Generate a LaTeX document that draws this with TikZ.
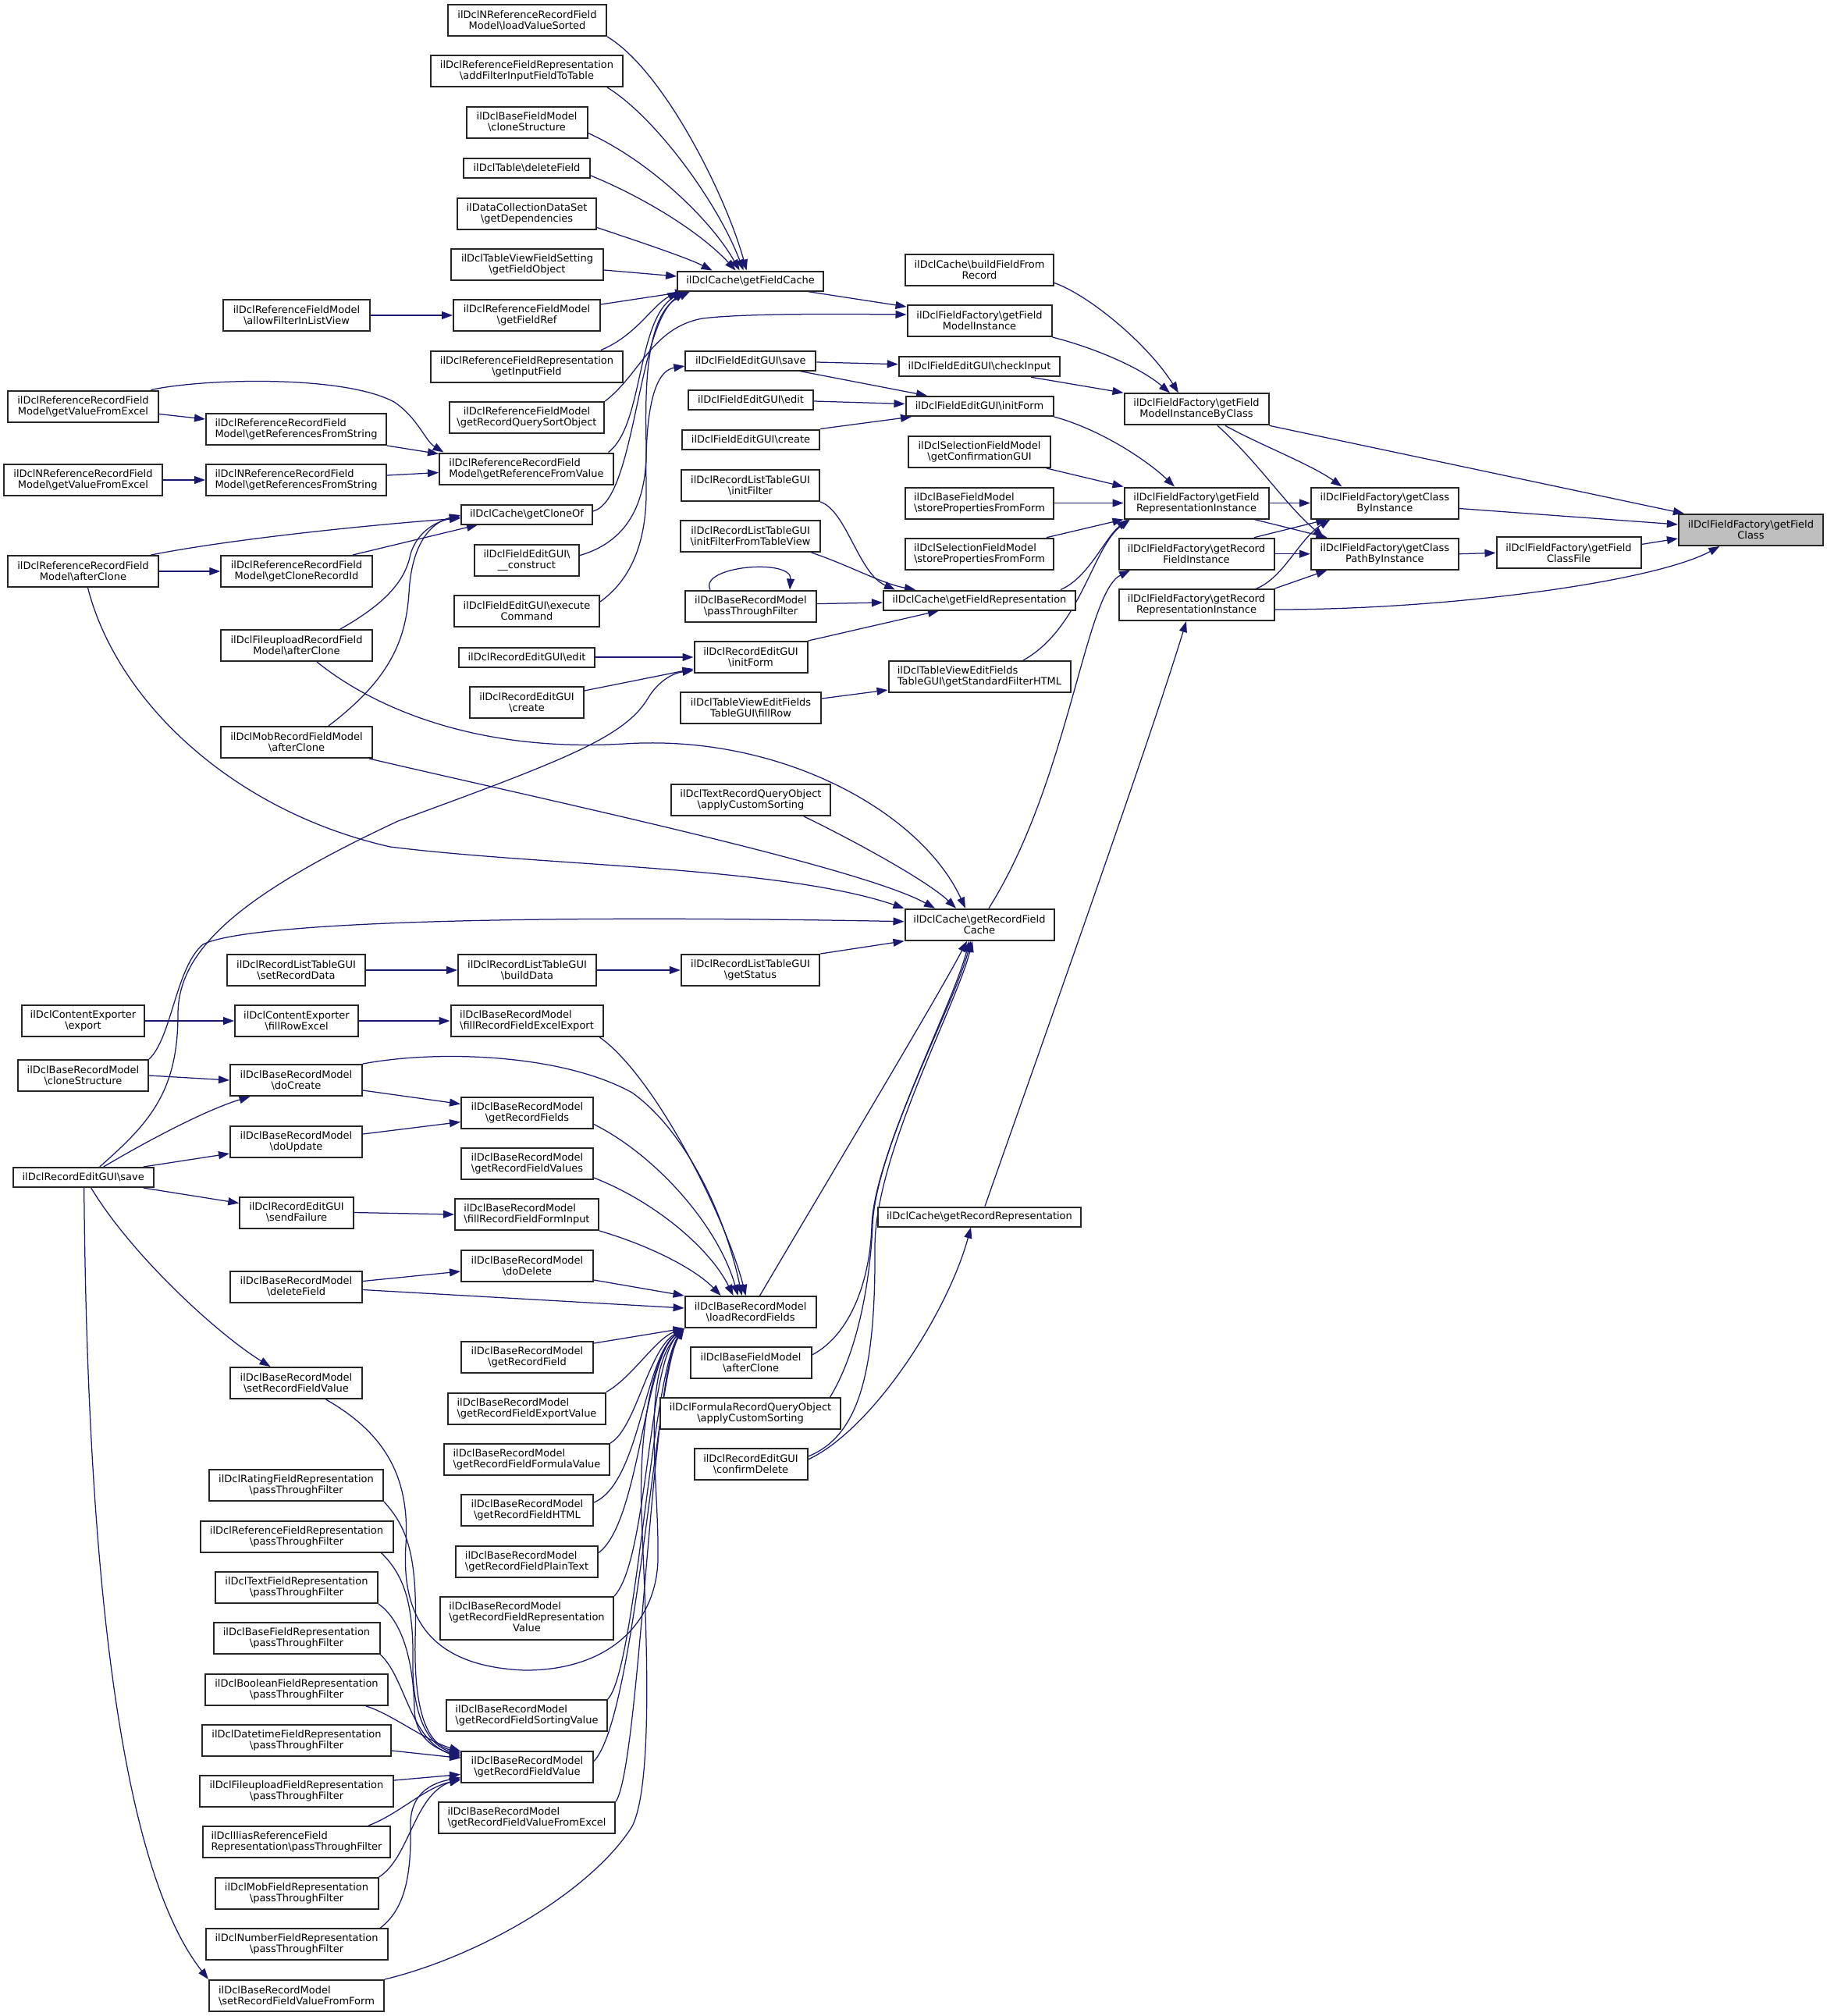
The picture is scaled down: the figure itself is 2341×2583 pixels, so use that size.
\documentclass[tikz,border=0pt]{standalone}
\usepackage{fontspec}
\setmainfont{DejaVu Sans}
\usetikzlibrary{arrows.meta}
\definecolor{edgec}{HTML}{191970}
\definecolor{rootfill}{HTML}{BFBFBF}
\newcommand{\bsl}{\textbackslash}
\pgfdeclarelayer{bg}
\pgfsetlayers{bg,main}
\begin{document}
\begin{tikzpicture}[x=1pt,y=-1pt,
  bx/.style={draw=black!85, line width=2pt, fill=white, font=\fontsize{13}{14}\selectfont, align=center, inner xsep=4pt, inner ysep=5pt, minimum height=40pt},
  lft/.style={align=left},
  one/.style={minimum height=25pt},
  cl/.style={draw=edgec, line width=1.25pt, -{Triangle[length=14pt,width=10pt]}},
]
\useasboundingbox (0,0) rectangle (2341,2583);
% ---------------- column A
\node[bx, minimum width=193pt] (rvExcel) at (106.5,520.5) {ilDclReferenceRecordField\\Model\bsl getValueFromExcel};
\node[bx, minimum width=203pt] (nrvExcel) at (106.5,615) {ilDclNReferenceRecordField\\Model\bsl getValueFromExcel};
\node[bx, minimum width=193pt] (rAfterClone) at (106.5,732) {ilDclReferenceRecordField\\Model\bsl afterClone};
\node[bx, minimum width=157pt] (ceExport) at (106.5,1308) {ilDclContentExporter\\\bsl export};
\node[bx, minimum width=167pt] (brmClone) at (106.5,1378) {ilDclBaseRecordModel\\\bsl cloneStructure};
\node[bx, one, minimum width=180pt] (reSave) at (106.7,1508.5) {ilDclRecordEditGUI\bsl save};
% ---------------- column B
\node[bx, minimum width=188pt] (allowFilter) at (380,404) {ilDclReferenceFieldModel\\\bsl allowFilterInListView};
\node[bx, lft, minimum width=231pt] (rRefStr) at (379.5,550) {ilDclReferenceRecordField\\Model\bsl getReferencesFromString};
\node[bx, lft, minimum width=231pt] (nrRefStr) at (379.5,615) {ilDclNReferenceRecordField\\Model\bsl getReferencesFromString};
\node[bx, minimum width=193.5pt] (cloneRecId) at (380,732) {ilDclReferenceRecordField\\Model\bsl getCloneRecordId};
\node[bx, minimum width=194pt] (fuAfterClone) at (380,827) {ilDclFileuploadRecordField\\Model\bsl afterClone};
\node[bx, minimum width=194pt] (mobAfterClone) at (380,951) {ilDclMobRecordFieldModel\\\bsl afterClone};
\node[bx, minimum width=177.5pt] (setRecData) at (379.5,1243) {ilDclRecordListTableGUI\\\bsl setRecordData};
\node[bx, minimum width=158pt] (fillRowExcel) at (380,1308) {ilDclContentExporter\\\bsl fillRowExcel};
\node[bx, minimum width=169pt] (doCreate) at (379.5,1384) {ilDclBaseRecordModel\\\bsl doCreate};
\node[bx, minimum width=169pt] (doUpdate) at (379.5,1463) {ilDclBaseRecordModel\\\bsl doUpdate};
\node[bx, minimum width=145.5pt] (sendFailure) at (380,1553.5) {ilDclRecordEditGUI\\\bsl sendFailure};
\node[bx, minimum width=169pt] (brmDeleteField) at (379.5,1648.5) {ilDclBaseRecordModel\\\bsl deleteField};
\node[bx, minimum width=169pt] (setRFV) at (379.5,1772) {ilDclBaseRecordModel\\\bsl setRecordFieldValue};
\node[bx, minimum width=223pt] (ratingPTF) at (379.5,1903) {ilDclRatingFieldRepresentation\\\bsl passThroughFilter};
\node[bx, minimum width=247pt] (refPTF) at (380,1968.6) {ilDclReferenceFieldRepresentation\\\bsl passThroughFilter};
\node[bx, minimum width=208pt] (textPTF) at (380,2034) {ilDclTextFieldRepresentation\\\bsl passThroughFilter};
\node[bx, minimum width=213pt] (basePTF) at (380,2099) {ilDclBaseFieldRepresentation\\\bsl passThroughFilter};
\node[bx, minimum width=234pt] (boolPTF) at (380,2165) {ilDclBooleanFieldRepresentation\\\bsl passThroughFilter};
\node[bx, minimum width=242pt] (datePTF) at (380,2230) {ilDclDatetimeFieldRepresentation\\\bsl passThroughFilter};
\node[bx, minimum width=248pt] (fuPTF) at (380,2295) {ilDclFileuploadFieldRepresentation\\\bsl passThroughFilter};
\node[bx, lft, minimum width=240.5pt] (iliasPTF) at (380,2360) {ilDclIliasReferenceField\\Representation\bsl passThroughFilter};
\node[bx, minimum width=209pt] (mobPTF) at (380,2426) {ilDclMobFieldRepresentation\\\bsl passThroughFilter};
\node[bx, minimum width=233pt] (numPTF) at (380,2491) {ilDclNumberFieldRepresentation\\\bsl passThroughFilter};
\node[bx, lft, minimum width=224pt] (setRFVForm) at (380,2557) {ilDclBaseRecordModel\\\bsl setRecordFieldValueFromForm};
% ---------------- column C
\node[bx, minimum width=203pt] (nrLoadSorted) at (675.5,26) {ilDclNReferenceRecordField\\Model\bsl loadValueSorted};
\node[bx, minimum width=246pt] (addFilter) at (675,91) {ilDclReferenceFieldRepresentation\\\bsl addFilterInputFieldToTable};
\node[bx, minimum width=155pt] (bfmClone) at (675,156.5) {ilDclBaseFieldModel\\\bsl cloneStructure};
\node[bx, one, minimum width=162pt] (tblDelete) at (675,215) {ilDclTable\bsl deleteField};
\node[bx, minimum width=178pt] (dsDeps) at (675,273.5) {ilDataCollectionDataSet\\\bsl getDependencies};
\node[bx, minimum width=195pt] (tvfsGetFO) at (675.5,339) {ilDclTableViewFieldSetting\\\bsl getFieldObject};
\node[bx, minimum width=188pt] (getFieldRef) at (675,404) {ilDclReferenceFieldModel\\\bsl getFieldRef};
\node[bx, minimum width=246pt] (getInputField) at (675,469.5) {ilDclReferenceFieldRepresentation\\\bsl getInputField};
\node[bx, minimum width=198.5pt] (getRQSO) at (675,535) {ilDclReferenceFieldModel\\\bsl getRecordQuerySortObject};
\node[bx, lft, minimum width=223pt] (getRefFromVal) at (674.5,600.5) {ilDclReferenceRecordField\\Model\bsl getReferenceFromValue};
\node[bx, one, minimum width=168pt] (getCloneOf) at (675,659) {ilDclCache\bsl getCloneOf};
\node[bx, minimum width=134pt] (feConstruct) at (675,717.6) {ilDclFieldEditGUI\bsl\\\_\_construct};
\node[bx, minimum width=186pt] (feExec) at (675,783) {ilDclFieldEditGUI\bsl execute\\Command};
\node[bx, one, minimum width=174pt] (reEdit) at (675,842) {ilDclRecordEditGUI\bsl edit};
\node[bx, minimum width=145.5pt] (reCreate) at (675,900) {ilDclRecordEditGUI\\\bsl create};
\node[bx, minimum width=177pt] (buildData) at (675.5,1243) {ilDclRecordListTableGUI\\\bsl buildData};
\node[bx, lft, minimum width=195pt] (fillRFExcel) at (675,1308) {ilDclBaseRecordModel\\\bsl fillRecordFieldExcelExport};
\node[bx, minimum width=169pt] (getRecordFields) at (675.5,1425.5) {ilDclBaseRecordModel\\\bsl getRecordFields};
\node[bx, minimum width=169pt] (getRFValues) at (675.5,1491) {ilDclBaseRecordModel\\\bsl getRecordFieldValues};
\node[bx, lft, minimum width=184pt] (fillRFForm) at (675,1556) {ilDclBaseRecordModel\\\bsl fillRecordFieldFormInput};
\node[bx, minimum width=169pt] (doDelete) at (675.5,1622) {ilDclBaseRecordModel\\\bsl doDelete};
\node[bx, minimum width=169pt] (getRecordField) at (675.5,1739) {ilDclBaseRecordModel\\\bsl getRecordField};
\node[bx, lft, minimum width=201.5pt] (getRFExport) at (675,1804.5) {ilDclBaseRecordModel\\\bsl getRecordFieldExportValue};
\node[bx, lft, minimum width=212pt] (getRFFormula) at (675,1870) {ilDclBaseRecordModel\\\bsl getRecordFieldFormulaValue};
\node[bx, minimum width=169pt] (getRFHTML) at (675.5,1935) {ilDclBaseRecordModel\\\bsl getRecordFieldHTML};
\node[bx, lft, minimum width=182pt] (getRFPlain) at (675,2000.5) {ilDclBaseRecordModel\\\bsl getRecordFieldPlainText};
\node[bx, minimum height=55pt, minimum width=222pt] (getRFRepVal) at (675,2073.5) {\begin{tabular}{@{}l@{}}ilDclBaseRecordModel\\\bsl getRecordFieldRepresentation\\\multicolumn{1}{@{}c@{}}{Value}\end{tabular}};
\node[bx, lft, minimum width=205.5pt] (getRFSort) at (675,2198) {ilDclBaseRecordModel\\\bsl getRecordFieldSortingValue};
\node[bx, minimum width=169pt] (getRFValue) at (675.5,2263.5) {ilDclBaseRecordModel\\\bsl getRecordFieldValue};
\node[bx, lft, minimum width=226.5pt] (getRFVExcel) at (675,2329) {ilDclBaseRecordModel\\\bsl getRecordFieldValueFromExcel};
% ---------------- column D
\node[bx, one, minimum width=187pt] (getFieldCache) at (961.6,360) {ilDclCache\bsl getFieldCache};
\node[bx, one, minimum width=167pt] (feSave) at (961.8,462) {ilDclFieldEditGUI\bsl save};
\node[bx, one, minimum width=160pt] (feEdit) at (962,512.5) {ilDclFieldEditGUI\bsl edit};
\node[bx, one, minimum width=176pt] (feCreate) at (962,563) {ilDclFieldEditGUI\bsl create};
\node[bx, minimum width=177.5pt] (rltInitFilter) at (961.5,622) {ilDclRecordListTableGUI\\\bsl initFilter};
\node[bx, minimum width=179pt] (rltInitFTV) at (961.6,687) {ilDclRecordListTableGUI\\\bsl initFilterFromTableView};
\node[bx, minimum width=168pt] (brmPTF) at (962,776.6) {ilDclBaseRecordModel\\\bsl passThroughFilter};
\node[bx, minimum width=145pt] (reInitForm) at (962,842) {ilDclRecordEditGUI\\\bsl initForm};
\node[bx, minimum width=180pt] (tvFillRow) at (962,907) {ilDclTableViewEditFields\\TableGUI\bsl fillRow};
\node[bx, minimum width=204pt] (textRQO) at (962,1025) {ilDclTextRecordQueryObject\\\bsl applyCustomSorting};
\node[bx, minimum width=177.5pt] (getStatus) at (961.5,1243) {ilDclRecordListTableGUI\\\bsl getStatus};
\node[bx, minimum width=168pt] (loadRF) at (961.6,1681) {ilDclBaseRecordModel\\\bsl loadRecordFields};
\node[bx, minimum width=155pt] (bfmAfterClone) at (962,1746) {ilDclBaseFieldModel\\\bsl afterClone};
\node[bx, minimum width=231pt] (formulaRQO) at (961.6,1811) {ilDclFormulaRecordQueryObject\\\bsl applyCustomSorting};
\node[bx, minimum width=145pt] (confirmDelete) at (962,1876) {ilDclRecordEditGUI\\\bsl confirmDelete};
% ---------------- column E
\node[bx, minimum width=190pt] (buildFFR) at (1255,345.5) {ilDclCache\bsl buildFieldFrom\\Record};
\node[bx, minimum width=185pt] (getFMI) at (1255,411) {ilDclFieldFactory\bsl getField\\ModelInstance};
\node[bx, one, minimum width=206.6pt] (checkInput) at (1255,469.7) {ilDclFieldEditGUI\bsl checkInput};
\node[bx, one, minimum width=189pt] (feInitForm) at (1255,520.5) {ilDclFieldEditGUI\bsl initForm};
\node[bx, minimum width=182pt] (getConfGUI) at (1255,579) {ilDclSelectionFieldModel\\\bsl getConfirmationGUI};
\node[bx, lft, minimum width=190pt] (bfmStoreProps) at (1255,644.5) {ilDclBaseFieldModel\\\bsl storePropertiesFromForm};
\node[bx, lft, minimum width=190pt] (selStoreProps) at (1255,709.7) {ilDclSelectionFieldModel\\\bsl storePropertiesFromForm};
\node[bx, one, minimum width=246pt] (getFieldRep) at (1255,769) {ilDclCache\bsl getFieldRepresentation};
\node[bx, lft, minimum width=233pt] (getStdFilter) at (1255,867) {ilDclTableViewEditFields\\TableGUI\bsl getStandardFilterHTML};
\node[bx, minimum width=191pt] (getRFCache) at (1255,1184.7) {ilDclCache\bsl getRecordField\\Cache};
\node[bx, one, minimum width=260pt] (getRecRep) at (1255,1559) {ilDclCache\bsl getRecordRepresentation};
% ---------------- columns F-I
\node[bx, minimum width=185pt] (getFMIBC) at (1533,524.3) {ilDclFieldFactory\bsl getField\\ModelInstanceByClass};
\node[bx, minimum width=185pt] (getFRI) at (1533,644.5) {ilDclFieldFactory\bsl getField\\RepresentationInstance};
\node[bx, minimum width=199pt] (getRFI) at (1533,709.7) {ilDclFieldFactory\bsl getRecord\\FieldInstance};
\node[bx, minimum width=199pt] (getRRI) at (1533,775) {ilDclFieldFactory\bsl getRecord\\RepresentationInstance};
\node[bx, minimum width=189pt] (getCBI) at (1774.4,644.5) {ilDclFieldFactory\bsl getClass\\ByInstance};
\node[bx, minimum width=189pt] (getCPBI) at (1774.4,709.7) {ilDclFieldFactory\bsl getClass\\PathByInstance};
\node[bx, minimum width=185pt] (getFCF) at (2010,708.4) {ilDclFieldFactory\bsl getField\\ClassFile};
\node[bx, fill=rootfill, minimum width=185pt] (root) at (2243.4,679) {ilDclFieldFactory\bsl getField\\Class};

\begin{pgfonlayer}{bg}
\fill[white] (0,0) rectangle (2341,2583);
% to root
\draw[cl] (getFMIBC.south east) -- ([xshift=8pt]root.north west);
\draw[cl] ([yshift=-7pt]getCBI.east) -- ([yshift=7pt]root.west);
\draw[cl] ([yshift=11pt]getFCF.east) -- ([yshift=-11pt]root.west);
\draw[cl] ([yshift=-6pt]getRRI.east) .. controls (1860,781) and (2120,745) .. ([xshift=-40pt]root.south);
\draw[cl] (getCPBI.east) -- (getFCF.west);
% getCBI
\draw[cl] ([xshift=37pt]getFMIBC.south) .. controls (1610,568) and (1680,595) .. ([xshift=-55pt]getCBI.north);
\draw[cl] (getFRI.east) -- (getCBI.west);
\draw[cl] ([xshift=74pt]getRFI.north) -- ([xshift=-74pt]getCBI.south);
\draw[cl] ([xshift=77pt]getRRI.north) .. controls (1645,740) and (1665,690) .. ([xshift=-70pt]getCBI.south);
% getCPBI
\draw[cl] ([xshift=74pt]getFRI.south) -- ([xshift=-74pt]getCPBI.north);
\draw[cl] (getRFI.east) -- (getCPBI.west);
\draw[cl] (getRRI.north east) -- ([xshift=-74pt]getCPBI.south);
\draw[cl] ([xshift=27pt]getFMIBC.south) .. controls (1615,595) and (1645,645) .. ([xshift=-78pt]getCPBI.north);
% getFMIBC
\draw[cl] ([yshift=-17pt]buildFFR.east) .. controls (1395,378) and (1470,440) .. ([xshift=-23pt]getFMIBC.north);
\draw[cl] (getFMI.south east) .. controls (1400,445) and (1460,470) .. ([xshift=-34pt]getFMIBC.north);
\draw[cl] ([xshift=66pt]checkInput.south) -- (getFMIBC.north west);
% getFRI
\draw[cl] (feInitForm.south east) .. controls (1410,550) and (1470,590) .. ([xshift=-28pt]getFRI.north);
\draw[cl] ([xshift=86pt]getConfGUI.south) -- (getFRI.north west);
\draw[cl] (bfmStoreProps.east) -- (getFRI.west);
\draw[cl] ([xshift=86pt]selStoreProps.north) -- (getFRI.south west);
\draw[cl] ([xshift=104pt]getFieldRep.north) .. controls (1395,740) and (1415,690) .. ([xshift=-88pt]getFRI.south);
\draw[cl] ([xshift=56pt]getStdFilter.north) .. controls (1385,805) and (1400,700) .. ([xshift=-85pt]getFRI.south);
% getRFI, getRRI
\draw[cl] ([xshift=12pt]getRFCache.north) .. controls (1370,1000) and (1390,760) .. ([xshift=-85pt]getRFI.south);
\draw[cl] ([xshift=7pt]getRecRep.north) .. controls (1320,1380) and (1470,960) .. ([xshift=-13pt]getRRI.south);
% getFMI
\draw[cl] ([xshift=73pt]getFieldCache.south) -- ([yshift=-3pt]getFMI.north west);
\draw[cl] (getRQSO.north east) .. controls (820,480) and (835,420) .. (900,408) .. controls (950,402) and (1050,402) .. ([yshift=8pt]getFMI.west);
% getFieldCache
\draw[cl] (nrLoadSorted.south east) .. controls (850,90) and (930,250) .. ([xshift=-5pt]getFieldCache.north);
\draw[cl] ([xshift=103pt]addFilter.south) .. controls (840,150) and (920,260) .. ([xshift=-9pt]getFieldCache.north);
\draw[cl] ([yshift=-14pt]bfmClone.east) .. controls (830,205) and (910,280) .. ([xshift=-14pt]getFieldCache.north);
\draw[cl] ([yshift=-10pt]tblDelete.east) .. controls (830,255) and (900,300) .. ([xshift=-19pt]getFieldCache.north);
\draw[cl] ([yshift=-18pt]dsDeps.east) .. controls (820,310) and (880,330) .. ([xshift=-49pt]getFieldCache.north);
\draw[cl] ([yshift=-7pt]tvfsGetFO.east) -- ([yshift=6pt]getFieldCache.west);
\draw[cl] ([yshift=14pt]getFieldRef.east) -- ([xshift=12pt]getFieldCache.south west);
\draw[cl] ([xshift=95pt]getInputField.north) .. controls (815,430) and (835,392) .. ([xshift=2pt]getFieldCache.south west);
\draw[cl] ([xshift=105pt]getRefFromVal.north) .. controls (825,545) and (815,410) .. ([xshift=8pt]getFieldCache.south west);
\draw[cl] ([yshift=4pt]getCloneOf.east) .. controls (815,640) and (815,420) .. ([xshift=10pt]getFieldCache.south west);
\draw[cl] ([yshift=6pt]feConstruct.east) .. controls (800,695) and (830,650) .. (828,570) .. controls (826,480) and (830,400) .. ([xshift=17pt]getFieldCache.south west);
% FieldEditGUI
\draw[cl] ([yshift=12pt]feExec.east) .. controls (805,745) and (830,700) .. (828,620) .. controls (826,520) and (840,475) .. ([yshift=-7pt]feSave.west);
\draw[cl] ([yshift=-2pt]feSave.east) -- ([yshift=3pt]checkInput.west);
\draw[cl] ([xshift=63pt]feSave.south) -- ([xshift=-67pt]feInitForm.north);
\draw[cl] ([yshift=-1.5pt]feEdit.east) -- ([yshift=3pt]feInitForm.west);
\draw[cl] (feCreate.north east) -- ([xshift=-87pt]feInitForm.south);
% getFieldRep
\draw[cl] (rltInitFilter.south east) .. controls (1085,655) and (1100,735) .. ([xshift=-108pt]getFieldRep.north);
\draw[cl] ([xshift=78pt]rltInitFTV.south) .. controls (1090,725) and (1130,748) .. ([xshift=-82pt]getFieldRep.north);
\draw[cl] ([yshift=3pt]brmPTF.east) -- ([yshift=-3pt]getFieldRep.west);
\draw[cl] (reInitForm.north east) -- ([xshift=-52pt]getFieldRep.south);
\draw[cl] ([xshift=-52pt]brmPTF.north) .. controls (895,725) and (1015,715) .. ([xshift=50pt]brmPTF.north);
\draw[cl] ([yshift=12pt]tvFillRow.east) -- ([yshift=-17pt]getStdFilter.west);
% RecordEditGUI initForm
\draw[cl] (reEdit.east) -- (reInitForm.west);
\draw[cl] ([yshift=15pt]reCreate.east) -- ([yshift=-15pt]reInitForm.west);
\draw[cl] ([xshift=21pt]reSave.north) .. controls (190,1440) and (228,1400) .. (228,1300) .. controls (228,1220) and (300,1150) .. (510,1052) .. controls (720,975) and (800,945) .. (830,895) .. controls (845,870) and (865,862) .. ([yshift=-17pt]reInitForm.west);
% getRecordFieldCache
\draw[cl] ([xshift=26pt]fuAfterClone.south) .. controls (470,900) and (600,965) .. (800,953) .. controls (1000,940) and (1180,1040) .. ([xshift=-18pt]getRFCache.north);
\draw[cl] ([xshift=-5pt]mobAfterClone.south east) .. controls (700,1025) and (1100,1110) .. ([xshift=-57pt]getRFCache.north);
\draw[cl] ([xshift=6pt]rAfterClone.south) .. controls (150,900) and (300,1040) .. (500,1085) .. controls (700,1110) and (1000,1110) .. (getRFCache.north west);
\draw[cl] ([xshift=68pt]textRQO.south) .. controls (1100,1080) and (1190,1130) .. ([xshift=-30pt]getRFCache.north);
\draw[cl] (brmClone.north east) .. controls (220,1330) and (225,1240) .. (260,1210) .. controls (320,1180) and (700,1172) .. ([yshift=4pt]getRFCache.west);
\draw[cl] (getStatus.north east) -- (getRFCache.south west);
\draw[cl] ([xshift=12pt]loadRF.north) .. controls (1050,1530) and (1200,1280) .. ([xshift=-16pt]getRFCache.south);
\draw[cl] ([yshift=10pt]bfmAfterClone.east) .. controls (1090,1710) and (1115,1640) .. (1117,1570) .. controls (1120,1480) and (1220,1290) .. ([xshift=-13pt]getRFCache.south);
\draw[cl] ([xshift=102pt]formulaRQO.north) .. controls (1100,1730) and (1115,1640) .. (1118,1570) .. controls (1122,1470) and (1222,1290) .. ([xshift=-11pt]getRFCache.south);
\draw[cl] ([yshift=10pt]confirmDelete.east) .. controls (1100,1840) and (1122,1760) .. (1121,1600) .. controls (1120,1480) and (1225,1290) .. ([xshift=-9pt]getRFCache.south);
\draw[cl] ([yshift=6pt]confirmDelete.east) .. controls (1120,1830) and (1215,1680) .. ([xshift=-11pt]getRecRep.south);
% chains
\draw[cl] (buildData.east) -- (getStatus.west);
\draw[cl] (setRecData.east) -- (buildData.west);
\draw[cl] (ceExport.east) -- (fillRowExcel.west);
\draw[cl] (fillRowExcel.east) -- (fillRFExcel.west);
% loadRecordFields
\draw[cl] ([xshift=-5pt]fillRFExcel.south east) .. controls (840,1380) and (930,1560) .. ([xshift=-6pt]loadRF.north);
\draw[cl] (doCreate.north east) .. controls (560,1345) and (720,1350) .. (810,1400) .. controls (880,1450) and (930,1560) .. ([xshift=-11pt]loadRF.north);
\draw[cl] ([yshift=-15pt]getRecordFields.east) .. controls (840,1480) and (920,1570) .. ([xshift=-16pt]loadRF.north);
\draw[cl] ([yshift=-18pt]getRFValues.east) .. controls (840,1540) and (910,1600) .. ([xshift=-22pt]loadRF.north);
\draw[cl] (fillRFForm.south east) .. controls (830,1595) and (890,1625) .. ([xshift=-38pt]loadRF.north);
\draw[cl] ([yshift=-18pt]doDelete.east) -- (loadRF.north west);
\draw[cl] ([yshift=-4pt]brmDeleteField.east) -- ([yshift=5pt]loadRF.west);
\draw[cl] ([yshift=18pt]getRecordField.east) -- (loadRF.south west);
\draw[cl] (getRFExport.north east) .. controls (810,1765) and (840,1715) .. (loadRF.south west);
\draw[cl] (getRFFormula.north east) .. controls (815,1830) and (830,1730) .. (loadRF.south west);
\draw[cl] ([yshift=10pt]getRFHTML.east) .. controls (820,1900) and (825,1740) .. (loadRF.south west);
\draw[cl] ([yshift=11pt]getRFPlain.east) .. controls (820,1950) and (825,1740) .. (loadRF.south west);
\draw[cl] (getRFRepVal.north east) .. controls (830,2000) and (830,1750) .. (loadRF.south west);
\draw[cl] ([xshift=38pt]setRFV.south) .. controls (500,1840) and (525,1900) .. (520,1980) .. controls (515,2060) and (540,2135) .. (673,2140) .. controls (780,2140) and (840,2080) .. (843,2000) .. controls (845,1900) and (820,1760) .. (loadRF.south west);
\draw[cl] (getRFSort.north east) .. controls (815,2140) and (835,1760) .. (loadRF.south west);
\draw[cl] ([yshift=7pt]getRFValue.east) .. controls (815,2200) and (840,1760) .. (loadRF.south west);
\draw[cl] (getRFVExcel.north east) .. controls (820,2260) and (835,1760) .. (loadRF.south west);
\draw[cl] (setRFVForm.north east) .. controls (620,2505) and (760,2420) .. (810,2340) .. controls (840,2280) and (826,2050) .. (822,1940) .. controls (818,1820) and (840,1730) .. (loadRF.south west);
% getRecordFieldValue
\draw[cl] (ratingPTF.south east) .. controls (525,1960) and (535,2000) .. (532,2100) .. controls (530,2200) and (550,2235) .. ([yshift=18pt]getRFValue.west);
\draw[cl] ([xshift=-16pt]refPTF.south east) .. controls (520,2020) and (530,2060) .. (529,2130) .. controls (528,2200) and (550,2237) .. ([yshift=16pt]getRFValue.west);
\draw[cl] (textPTF.south east) .. controls (520,2080) and (530,2140) .. (531,2190) .. controls (532,2225) and (555,2240) .. ([yshift=14pt]getRFValue.west);
\draw[cl] (basePTF.south east) .. controls (520,2150) and (525,2230) .. ([yshift=12pt]getRFValue.west);
\draw[cl] ([xshift=89pt]boolPTF.south) .. controls (500,2195) and (545,2230) .. ([yshift=20pt]getRFValue.west);
\draw[cl] ([yshift=-13pt]datePTF.east) -- ([yshift=11pt]getRFValue.west);
\draw[cl] ([yshift=14pt]fuPTF.east) -- ([yshift=-10pt]getRFValue.west);
\draw[cl] ([xshift=92pt]iliasPTF.north) .. controls (510,2325) and (545,2290) .. ([yshift=-17pt]getRFValue.west);
\draw[cl] (mobPTF.north east) .. controls (525,2380) and (530,2300) .. ([yshift=-15pt]getRFValue.west);
\draw[cl] ([xshift=-10pt]numPTF.north east) .. controls (520,2445) and (527,2400) .. (526,2340) .. controls (525,2300) and (550,2285) .. ([yshift=-14pt]getRFValue.west);
% RecordEditGUI save
\draw[cl] ([xshift=26pt]reSave.north) .. controls (200,1455) and (270,1420) .. ([xshift=-59pt]doCreate.south);
\draw[cl] ([xshift=77pt]reSave.north) -- ([yshift=-15pt]doUpdate.west);
\draw[cl] ([xshift=77pt]reSave.south) -- ([yshift=12pt]sendFailure.west);
\draw[cl] ([xshift=10pt]reSave.south) .. controls (170,1610) and (280,1710) .. ([xshift=-33pt]setRFV.north);
\draw[cl] ([xshift=1pt]reSave.south) .. controls (112,2050) and (160,2400) .. (setRFVForm.north west);
\draw[cl] (brmClone.east) -- (doCreate.west);
\draw[cl] ([yshift=-13pt]doCreate.east) -- ([yshift=11pt]getRecordFields.west);
\draw[cl] ([yshift=10pt]doUpdate.east) -- ([yshift=-12pt]getRecordFields.west);
\draw[cl] (sendFailure.east) -- (fillRFForm.west);
\draw[cl] ([yshift=7pt]brmDeleteField.east) -- ([yshift=-7pt]doDelete.west);
% reference models
\draw[cl] ([yshift=-10pt]rvExcel.east) -- ([yshift=13pt]rRefStr.west);
\draw[cl] ([xshift=87pt]rvExcel.north) .. controls (260,485) and (440,480) .. (505,515) .. controls (535,535) and (545,565) .. ([xshift=-106pt]getRefFromVal.north);
\draw[cl] (rRefStr.south east) -- ([yshift=-2pt]getRefFromVal.north west);
\draw[cl] (nrvExcel.east) -- (nrRefStr.west);
\draw[cl] ([yshift=6pt]nrRefStr.east) -- ([yshift=-5pt]getRefFromVal.west);
\draw[cl] (allowFilter.east) -- (getFieldRef.west);
% getCloneOf
\draw[cl] (rAfterClone.east) -- (cloneRecId.west);
\draw[cl] ([xshift=87pt]rAfterClone.north) .. controls (300,690) and (480,672) .. ([yshift=-5pt]getCloneOf.west);
\draw[cl] ([xshift=72pt]cloneRecId.north) -- ([xshift=-63pt]getCloneOf.south);
\draw[cl] ([xshift=56pt]fuAfterClone.north) .. controls (500,770) and (520,740) .. (526,710) .. controls (535,680) and (560,668) .. ([yshift=-3pt]getCloneOf.west);
\draw[cl] ([xshift=41pt]mobAfterClone.north) .. controls (500,870) and (520,820) .. (524,760) .. controls (527,700) and (550,670) .. ([yshift=-1pt]getCloneOf.west);
\end{pgfonlayer}
\end{tikzpicture}
\end{document}
